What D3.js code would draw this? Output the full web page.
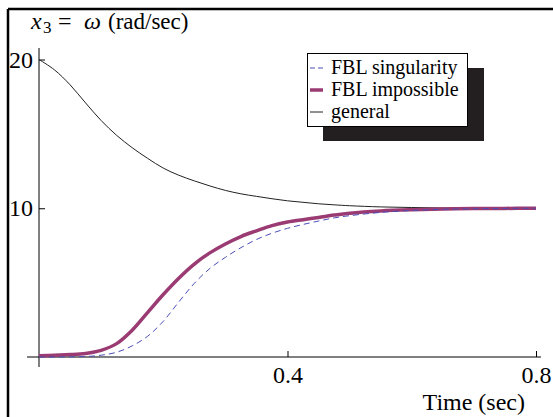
<!DOCTYPE html>
<html>
<head>
<meta charset="utf-8">
<script src="https://cdn.jsdelivr.net/npm/d3@7"></script>
<style>
  html, body { margin: 0; padding: 0; background: #fff; }
  svg { display: block; }
  text { font-family: "Liberation Serif", "DejaVu Serif", serif; fill: #000; }
</style>
</head>
<body>
<svg id="chart" width="553" height="417"></svg>
<script>
// Angular velocity x3 = ω over time for three control cases
const time = [0, 0.025, 0.05, 0.075, 0.1, 0.125, 0.15, 0.175, 0.2, 0.225, 0.25, 0.275, 0.3,
              0.325, 0.35, 0.375, 0.4, 0.425, 0.45, 0.475, 0.5, 0.55, 0.6, 0.65, 0.7, 0.75, 0.8];
const fblSingularity = [0, 0, 0.01, 0.03, 0.12, 0.32, 0.75, 1.4, 2.4, 3.7, 4.95, 5.95, 6.7,
                        7.35, 7.9, 8.32, 8.65, 8.91, 9.14, 9.35, 9.5, 9.72, 9.85, 9.93, 9.97, 9.99, 10.0];
const fblImpossible = [0.08, 0.12, 0.16, 0.24, 0.45, 0.9, 1.8, 3.0, 4.2, 5.3, 6.25, 7.0, 7.6,
                       8.1, 8.48, 8.83, 9.07, 9.23, 9.38, 9.54, 9.67, 9.82, 9.9, 9.95, 9.98, 9.99, 10.0];
const general = [20, 19.3, 18.3, 17.08, 15.9, 14.9, 14.07, 13.35, 12.7, 12.22, 11.84, 11.5, 11.2,
                 10.97, 10.8, 10.64, 10.5, 10.4, 10.3, 10.23, 10.17, 10.09, 10.05, 10.02, 10.01, 10.0, 10.0];

const xTicks = [0.4, 0.8];
const yTicks = [10, 20];
const seriesNames = ["FBL singularity", "FBL impossible", "general"];

const svg = d3.select("#chart");

// frame lines along the top and left edges
svg.append("line").attr("x1", 8).attr("x2", 553).attr("y1", 9).attr("y2", 9)
  .attr("stroke", "#000").attr("stroke-width", 2.5);
svg.append("line").attr("x1", 8).attr("x2", 8).attr("y1", 9).attr("y2", 417)
  .attr("stroke", "#000").attr("stroke-width", 2.5);

const x = d3.scaleLinear().domain([0, 0.8]).range([39, 536]);
const y = d3.scaleLinear().domain([0, 20]).range([357, 59.5]);

// axes crossing at the origin, with a small overshoot past it
svg.append("line").attr("x1", 27).attr("x2", 541).attr("y1", y(0)).attr("y2", y(0))
  .attr("stroke", "#000").attr("stroke-width", 1);
svg.append("line").attr("x1", x(0)).attr("x2", x(0)).attr("y1", 48).attr("y2", 367)
  .attr("stroke", "#000").attr("stroke-width", 1);

const xAxis = d3.axisBottom(x).tickValues(xTicks).tickSize(-6).tickPadding(9)
  .tickFormat(d3.format(".1f"));
const gx = svg.append("g").attr("transform", `translate(0,${y(0)})`).call(xAxis);
gx.select(".domain").remove();
gx.selectAll("text").attr("font-family", "Liberation Serif").attr("font-size", 24)
  .attr("dy", "0.71em");

const yAxis = d3.axisLeft(y).tickValues(yTicks).tickSize(-6).tickPadding(6)
  .tickFormat(d3.format("d"));
const gy = svg.append("g").attr("transform", `translate(${x(0)},0)`).call(yAxis);
gy.select(".domain").remove();
gy.selectAll("text").attr("font-family", "Liberation Serif").attr("font-size", 24);

// axis titles
const title = svg.append("text").attr("y", 29).attr("font-size", 24);
title.append("tspan").attr("x", 31).attr("font-style", "italic").text("x");
title.append("tspan").attr("x", 43).attr("font-size", 17).attr("dy", 4).text("3");
title.append("tspan").attr("x", 58).attr("dy", -4).text("=");
title.append("tspan").attr("x", 84).attr("font-style", "italic").text("ω");
title.append("tspan").attr("x", 108).attr("font-size", 23).text("(rad/sec)");

svg.append("text").attr("x", 525).attr("y", 410).attr("text-anchor", "end")
  .attr("font-size", 24).text("Time (sec)");

const pts = vals => time.map((t, i) => [t, vals[i]]);
const line = d3.line().x(d => x(d[0])).y(d => y(d[1])).curve(d3.curveCatmullRom.alpha(0.5));

svg.append("path").datum(pts(general)).attr("d", line)
  .attr("fill", "none").attr("stroke", "#222").attr("stroke-width", 1);
svg.append("path").datum(pts(fblImpossible)).attr("d", line)
  .attr("fill", "none").attr("stroke", "#9b3b73").attr("stroke-width", 3.5);
svg.append("path").datum(pts(fblSingularity)).attr("d", line)
  .attr("fill", "none").attr("stroke", "#4a4db5").attr("stroke-width", 1)
  .attr("stroke-dasharray", "6,4");

// legend with drop shadow
const lg = svg.append("g");
lg.append("rect").attr("x", 323).attr("y", 68).attr("width", 161).attr("height", 73)
  .attr("fill", "#231f20");
lg.append("rect").attr("x", 307.5).attr("y", 53.5).attr("width", 160).attr("height", 73)
  .attr("fill", "#fff").attr("stroke", "#000").attr("stroke-width", 1);

const legendStyles = [
  { stroke: "#4a4db5", width: 1, dash: "5,3" },
  { stroke: "#9b3b73", width: 3.5, dash: null },
  { stroke: "#222", width: 1, dash: null }
];
seriesNames.forEach((name, i) => {
  const cy = 68 + i * 22;
  const s = legendStyles[i];
  lg.append("line").attr("x1", 310).attr("x2", 323).attr("y1", cy).attr("y2", cy)
    .attr("stroke", s.stroke).attr("stroke-width", s.width)
    .attr("stroke-dasharray", s.dash);
  lg.append("text").attr("x", 331).attr("y", cy + 6).attr("font-size", 20).text(name);
});
</script>
</body>
</html>
